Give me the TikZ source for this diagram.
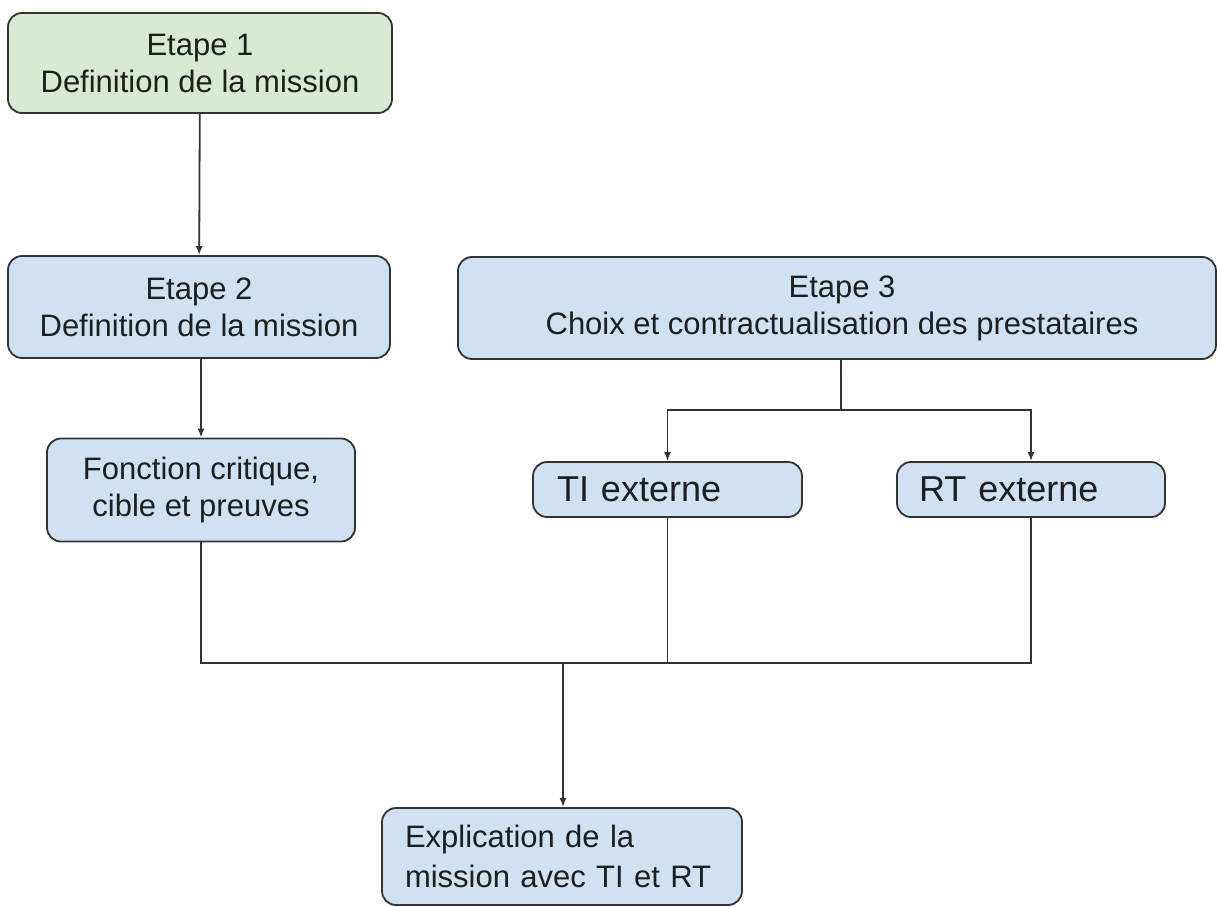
\documentclass[tikz,border=0pt]{standalone}
\usepackage{fontspec}
\setmainfont{Liberation Sans}
\usetikzlibrary{arrows.meta}

\definecolor{greenfill}{HTML}{D9EAD3}
\definecolor{bluefill}{HTML}{CFE2F3}
\definecolor{edgegray}{HTML}{333333}
\definecolor{inkgray}{HTML}{1E1E1E}

\begin{document}
\begin{tikzpicture}[x=1pt,y=-1pt,
  box/.style={draw=edgegray, line width=1.8pt, rounded corners=14pt,
    fill=bluefill, text=inkgray, align=center, inner sep=0pt,
    font=\fontsize{31}{37}\selectfont},
  greenbox/.style={box, fill=greenfill},
  leftbox/.style={box, align=left},
  link/.style={draw=edgegray, line width=1.8pt},
  arrowlink/.style={link, -{Latex[length=9pt,width=7pt]}}
]
\useasboundingbox (0,0) rectangle (1218,907);

% step boxes
\node[greenbox, minimum width=384pt, minimum height=100pt] (e1) at (200,63)
  {Etape 1\\Definition de la mission};
\node[box, minimum width=382pt, minimum height=102pt] (e2) at (199,307)
  {Etape 2\\Definition de la mission};
\node[box, minimum width=308pt, minimum height=103pt] (fc) at (201,490)
  {Fonction critique,\\cible et preuves};
\node[box, minimum width=758pt, minimum height=102pt] (e3) at (837,308)
  {\hspace*{10pt}Etape 3\\\hspace*{10pt}Choix et contractualisation des prestataires};

% providers
\node[leftbox, minimum width=269pt, minimum height=55pt,
  text width=221pt, font=\fontsize{36}{40}\selectfont] (ti) at (667.5,489.5)
  {TI externe};
\node[leftbox, minimum width=268pt, minimum height=55pt,
  text width=224pt, font=\fontsize{36}{40}\selectfont] (rt) at (1031,489.5)
  {RT externe};

% final box
\node[leftbox, minimum width=360pt, minimum height=97pt,
  text width=314pt, font=\fontsize{31}{40}\selectfont] (ex) at (562,856.5)
  {Explication de la\\mission avec TI et RT};

% junction points
\coordinate (split) at (841,410);
\coordinate (join) at (563,663);

% connectors
\draw[arrowlink] (e1) -- (e2);
\draw[arrowlink] (e2.south -| fc) -- (fc);
\draw[link] (split |- e3.south) -- (split);
\draw[arrowlink] (split) -| (ti.north);
\draw[arrowlink] (split) -| (rt.north);
\draw[link] (fc.south) |- (join);
\draw[link] (ti.south) |- (join);
\draw[link] (rt.south) |- (join);
\draw[arrowlink] (join) -- (join |- ex.north);
\end{tikzpicture}
\end{document}
